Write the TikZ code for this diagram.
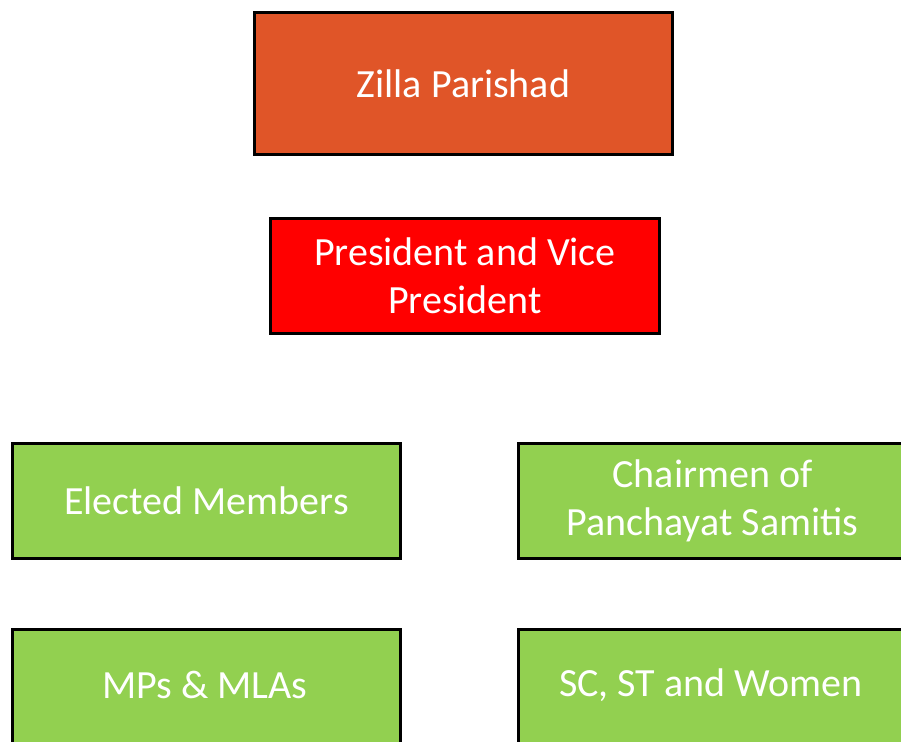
\documentclass[tikz,border=0pt]{standalone}
\usepackage{fontspec}
\setmainfont{Carlito}
\definecolor{zorange}{HTML}{E05528}
\definecolor{zred}{HTML}{FF0000}
\definecolor{zgreen}{HTML}{92D050}
\begin{document}
\begin{tikzpicture}[x=0.75pt,y=-0.75pt,
  box/.style={draw=black,line width=2.2pt,text=white,align=center,inner sep=0pt,
    font=\fontsize{30}{36}\selectfont},
  nodebox/.style={box,anchor=north west}]
\useasboundingbox (0,0) rectangle (901,742);
\clip (0,0) rectangle (901,742);
\node[nodebox,fill=zorange,minimum width=418*0.75pt,minimum height=142*0.75pt] (zp) at (253,11) {Zilla Parishad};
\node[nodebox,fill=zred,minimum width=389*0.75pt,minimum height=115*0.75pt] (pvp) at (269,217) {President and Vice\\President};
\node[nodebox,fill=zgreen,minimum width=388*0.75pt,minimum height=115*0.75pt] (em) at (11,442) {Elected Members};
\node[nodebox,fill=zgreen,minimum width=388*0.75pt,minimum height=115*0.75pt] (cps) at (517,442) {Chairmen of\\Panchayat Samitis};
\node[nodebox,fill=zgreen,minimum width=388*0.75pt,minimum height=142*0.75pt] (mp) at (11,628) {};
\node[nodebox,fill=zgreen,minimum width=388*0.75pt,minimum height=142*0.75pt] (sc) at (517,628) {};
\node[box,draw=none,fill=none] (mpt) at (205,685) {MPs \& MLAs};
\node[box,draw=none,fill=none] (sct) at (711,685) {SC, ST and Women};
\end{tikzpicture}
\end{document}
